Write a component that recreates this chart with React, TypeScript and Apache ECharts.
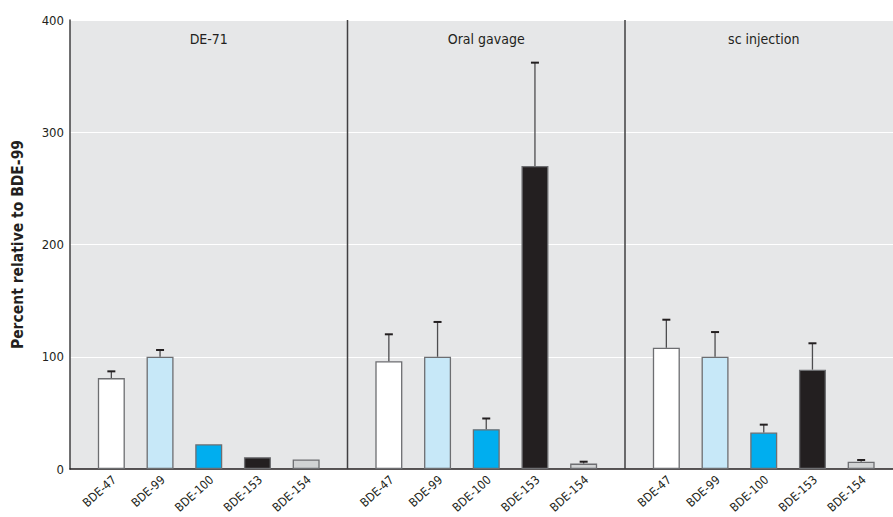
import React, { useEffect, useRef } from "react";
import * as echarts from "echarts";

const compounds = ["BDE-47", "BDE-99", "BDE-100", "BDE-153", "BDE-154"];
const panels = ["DE-71", "Oral gavage", "sc injection"];
const barColors = ["#ffffff", "#c7e8f8", "#00aeef", "#231f20", "#d1d3d4"];

const de71Mean = [81, 100, 22, 10.5, 8.5];
const de71Upper = [87, 106, 22, 10.5, 8.5];
const oralMean = [96, 100, 35.5, 270, 4.8];
const oralUpper = [120, 131, 45, 362, 6.5];
const scMean = [108, 100, 32.5, 88.5, 6.5];
const scUpper = [133, 122, 39.5, 112, 8];

const yTicks = [0, 100, 200, 300, 400];

const means = [de71Mean, oralMean, scMean];
const uppers = [de71Upper, oralUpper, scUpper];

const FONT = "'Liberation Sans Narrow', 'DejaVu Sans Condensed', 'Roboto Condensed', sans-serif";

export default function App() {
  const ref = useRef<HTMLDivElement>(null);
  useEffect(() => {
    if (!ref.current) return;
    const chart = echarts.init(ref.current, null, { renderer: "svg" });
    const plotLeft = 70;
    const plotTop = 20;
    const plotBottom = 48;
    const panelW = 277.5;
    const inset = 17;
    const innerW = panelW - 2 * inset;

    const grids: any[] = [
      {
        left: plotLeft,
        right: 0,
        top: plotTop,
        bottom: plotBottom,
        show: true,
        backgroundColor: "#e6e7e8",
        borderWidth: 0,
      },
    ];
    const xAxes: any[] = [
      {
        gridIndex: 0,
        type: "value",
        min: 0,
        max: 1,
        axisLine: { show: true, onZero: false, lineStyle: { color: "#231f20", width: 1.5 } },
        axisTick: { show: false },
        axisLabel: { show: false },
        splitLine: { show: false },
      },
    ];
    const yAxes: any[] = [
      {
        gridIndex: 0,
        type: "value",
        min: yTicks[0],
        max: yTicks[yTicks.length - 1],
        interval: 100,
        name: "Percent relative to BDE-99",
        nameLocation: "middle",
        nameGap: 44,
        nameTextStyle: { fontFamily: FONT, fontSize: 15.5, fontWeight: "bold", color: "#231f20" },
        axisLine: { show: true, lineStyle: { color: "#414042", width: 1.5 } },
        axisTick: { show: false },
        axisLabel: { fontFamily: FONT, fontSize: 13, color: "#231f20", margin: 6 },
        splitLine: { show: true, lineStyle: { color: "#ffffff", width: 1.2 } },
      },
    ];
    const series: any[] = [];
    const graphics: any[] = [];

    panels.forEach((p, i) => {
      const gi = i + 1;
      grids.push({
        left: plotLeft + i * panelW + inset,
        width: innerW,
        top: plotTop,
        bottom: plotBottom,
      });
      xAxes.push({
        gridIndex: gi,
        type: "category",
        data: compounds,
        axisLine: { show: false },
        axisTick: { show: false },
        axisLabel: { show: false },
      });
      yAxes.push({
        gridIndex: gi,
        type: "value",
        min: 0,
        max: 400,
        interval: 100,
        show: false,
        splitLine: { show: false },
      });
      series.push({
        type: "bar",
        xAxisIndex: gi,
        yAxisIndex: gi,
        barWidth: 27,
        data: means[i].map((v, k) => ({
          value: v,
          itemStyle: { color: barColors[k], borderColor: "#6d6e71", borderWidth: 1.3 },
        })),
        z: 3,
      });
      series.push({
        type: "custom",
        xAxisIndex: gi,
        yAxisIndex: gi,
        z: 4,
        clip: false,
        data: means[i].map((v, k) => [k, v, uppers[i][k]]),
        renderItem: (params: any, api: any) => {
          const m = api.value(1);
          const u = api.value(2);
          const idx = api.value(0);
          const base = api.coord([idx, m]);
          const top = api.coord([idx, u]);
          const zero = api.coord([idx, 0]);
          const children: any[] = [
            {
              type: "text",
              x: zero[0] + 3,
              y: zero[1] + 9,
              rotation: (42 * Math.PI) / 180,
              style: {
                text: compounds[idx],
                fontFamily: FONT,
                fontSize: 12,
                fill: "#231f20",
                align: "right",
                verticalAlign: "middle",
              },
            },
          ];
          if (u > m) {
            children.push(
              {
                type: "line",
                shape: { x1: base[0], y1: base[1], x2: top[0], y2: top[1] },
                style: { stroke: "#4d4d4f", lineWidth: 1.3 },
              },
              {
                type: "line",
                shape: { x1: top[0] - 4, y1: top[1], x2: top[0] + 4, y2: top[1] },
                style: { stroke: "#231f20", lineWidth: 2 },
              }
            );
          }
          return { type: "group", children };
        },
      });
      graphics.push({
        type: "text",
        x: plotLeft + i * panelW + panelW / 2,
        y: 39,
        style: {
          text: p,
          fontFamily: FONT,
          fontSize: 14,
          fill: "#231f20",
          textAlign: "center",
          textVerticalAlign: "middle",
        },
      });
      if (i > 0) {
        graphics.push({
          type: "line",
          shape: {
            x1: plotLeft + i * panelW,
            y1: plotTop,
            x2: plotLeft + i * panelW,
            y2: 517 - plotBottom,
          },
          style: { stroke: "#414042", lineWidth: 1.5 },
          z: 10,
        });
      }
    });

    chart.setOption({
      animation: false,
      backgroundColor: "#ffffff",
      grid: grids,
      xAxis: xAxes,
      yAxis: yAxes,
      series,
      graphic: graphics,
    });
    return () => chart.dispose();
  }, []);
  return <div ref={ref} style={{ width: 893, height: 517, position: "absolute", left: 0, top: 0 }} />;
}
